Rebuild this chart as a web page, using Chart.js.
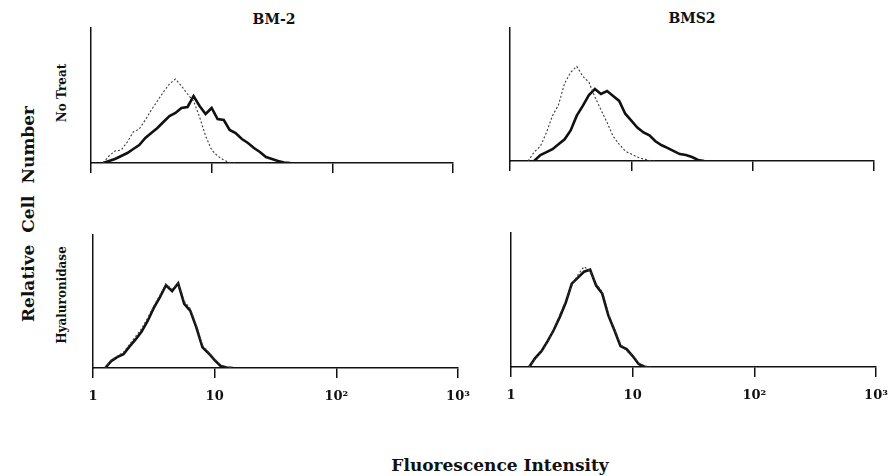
<!DOCTYPE html>
<html lang="en">
<head>
<meta charset="UTF-8">
<title>BM-2 / BMS2 fluorescence histograms</title>
<script src="https://cdn.jsdelivr.net/npm/chart.js"></script>
<style>
    * { margin: 0; padding: 0; box-sizing: border-box; }
    body {
        width: 896px; height: 476px; position: relative; overflow: hidden;
        background: #fff; color: #111; font-family: 'DejaVu Serif', serif;
    }
    .panel { position: absolute; }
    .lbl { position: absolute; font-weight: bold; white-space: pre; line-height: 1; }
    .ctr { transform: translate(-50%, -50%); }
    .rot { transform: translate(-50%, -50%) rotate(-90deg); }
</style>
</head>
<body>
<div class="lbl ctr" style="left:274px; top:19px; font-size:14px;">BM-2</div>
<div class="lbl ctr" style="left:692px; top:18px; font-size:14px;">BMS2</div>
<div class="lbl rot" style="left:28px; top:214px; font-size:17px; word-spacing:6px;">Relative Cell Number</div>
<div class="lbl rot" style="left:62px; top:93px; font-size:12px;">No Treat</div>
<div class="lbl rot" style="left:62px; top:295px; font-size:12px;">Hyaluronidase</div>
<div class="lbl ctr" style="left:500px; top:465px; font-size:17px;">Fluorescence Intensity</div>

<div class="panel" id="w1"><canvas id="c1"></canvas></div>
<div class="panel" id="w2"><canvas id="c2"></canvas></div>
<div class="panel" id="w3"><canvas id="c3"></canvas></div>
<div class="panel" id="w4"><canvas id="c4"></canvas></div>

<script>
// fluorescence channels (log spaced), shared by every histogram
const channels = [1.00, 1.12, 1.26, 1.41, 1.58, 1.78, 2.00, 2.24, 2.51, 2.82,
                  3.16, 3.55, 3.98, 4.47, 5.01, 5.62, 6.31, 7.08, 7.94, 8.91,
                  10.0, 11.2, 12.6, 14.1, 15.8, 17.8, 20.0, 22.4, 25.1, 28.2,
                  31.6, 35.5, 39.8, 44.7, 50.1];

const xTicks = [1, 10, 100, 1000];
const xTickLabels = ['1', '10', '10²', '10³'];

// relative cell number (null = no cells)
const bm2NoTreatCtrl = [null, null, 0, 7, 12, 13, 21, 31, 34, 43, 53, 62, 71, 79, 84, 77, 69, 62, 46, 27,
                        13, 7, 3, 0.5, 0, null, null, null, null, null, null, null, null, null, null];
const bm2NoTreat     = [null, null, 0, 2, 4, 7, 10, 14, 18, 25, 30, 35, 41, 47, 50, 55, 56, 67, 57, 49,
                        55, 44, 43, 33, 30, 24, 20, 15, 11, 6, 4, 2, 0.5, 0, null];
const bms2NoTreatCtrl = [null, null, null, 0, 9, 15, 29, 46, 57, 79, 90, 96, 86, 80, 65, 52, 39, 25, 17, 10,
                         7, 4, 2, 0.5, 0, null, null, null, null, null, null, null, null, null, null];
const bms2NoTreat     = [null, null, null, null, 0, 6, 9, 12, 17, 22, 31, 46, 56, 67, 73, 68, 71, 66, 61, 48,
                         41, 34, 29, 26, 20, 16, 13, 10, 7, 6, 4, 1, 0, null, null];
const bm2HyaCtrl = [null, null, 0, 8, 12, 16, 24, 32, 40, 51, 63, 74, 85, 80, 86, 68, 60, 43, 23, 16,
                    9, 3, 1, 0, null, null, null, null, null, null, null, null, null, null, null];
const bm2Hya     = [null, null, 0, 7, 11, 14, 22, 29, 37, 48, 61, 72, 84, 78, 86, 65, 58, 41, 21, 15,
                    8, 2, 0.5, 0, null, null, null, null, null, null, null, null, null, null, null];
const bms2HyaCtrl = [null, null, null, 0, 8, 15, 25, 38, 52, 67, 82, 93, 101, 97, 84, 76, 54, 38, 23, 16,
                     12, 4, 1, 0, null, null, null, null, null, null, null, null, null, null, null];
const bms2Hya     = [null, null, null, 0, 9, 16, 26, 37, 50, 65, 84, 90, 96, 98, 82, 74, 52, 37, 21, 18,
                     11, 3, 0, null, null, null, null, null, null, null, null, null, null, null, null];

const yMax = 135;

function toPoints(vals) {
    const pts = [];
    vals.forEach((v, i) => { if (v !== null) pts.push({ x: channels[i], y: v }); });
    return pts;
}

function makePanel(n, rect, showLabels, ctrl, treated) {
    const padL = 20, padR = 26, padT = 4;
    const axisH = showLabels ? 42 : 12;
    const wrap = document.getElementById('w' + n);
    const canvas = document.getElementById('c' + n);
    const W = rect.w + padL + padR, H = padT + rect.h + axisH;
    wrap.style.left = (rect.left - padL) + 'px';
    wrap.style.top = (rect.top - padT) + 'px';
    canvas.width = W; canvas.height = H;

    new Chart(canvas, {
        type: 'line',
        data: {
            datasets: [
                {
                    label: 'control',
                    data: toPoints(ctrl),
                    borderColor: '#3a3a3a',
                    borderWidth: 1.1,
                    borderDash: [2, 2],
                    pointRadius: 0,
                    tension: 0
                },
                {
                    label: 'antibody',
                    data: toPoints(treated),
                    borderColor: '#111',
                    borderWidth: 2.6,
                    pointRadius: 0,
                    tension: 0
                }
            ]
        },
        options: {
            responsive: false,
            animation: false,
            layout: { padding: { left: padL, right: padR, top: padT, bottom: 0 } },
            plugins: { legend: { display: false }, tooltip: { enabled: false } },
            scales: {
                x: {
                    type: 'logarithmic',
                    min: 1, max: 1000,
                    afterBuildTicks: s => { s.ticks = xTicks.map(v => ({ value: v })); },
                    afterFit: s => { s.height = axisH; },
                    grid: {
                        drawOnChartArea: false, drawTicks: true, tickLength: 10,
                        color: '#111', lineWidth: 1.5
                    },
                    border: { display: true, color: '#111', width: 1.5 },
                    ticks: {
                        display: showLabels,
                        autoSkip: false, maxRotation: 0, padding: 11,
                        color: '#111',
                        font: { family: 'DejaVu Serif', size: 13, weight: 'bold' },
                        callback: (v, i) => xTickLabels[i]
                    }
                },
                y: {
                    min: 0, max: yMax,
                    afterFit: s => { s.width = 0; },
                    grid: { display: false, drawTicks: false },
                    border: { display: true, color: '#111', width: 1.5 },
                    ticks: { display: false }
                }
            }
        }
    });
}

makePanel(1, { left: 91, top: 28, w: 362, h: 135 }, false, bm2NoTreatCtrl, bm2NoTreat);
makePanel(2, { left: 510, top: 28, w: 364, h: 133 }, false, bms2NoTreatCtrl, bms2NoTreat);
makePanel(3, { left: 93, top: 235, w: 365, h: 133 }, true, bm2HyaCtrl, bm2Hya);
makePanel(4, { left: 511, top: 233, w: 365, h: 134 }, true, bms2HyaCtrl, bms2Hya);
</script>
</body>
</html>
